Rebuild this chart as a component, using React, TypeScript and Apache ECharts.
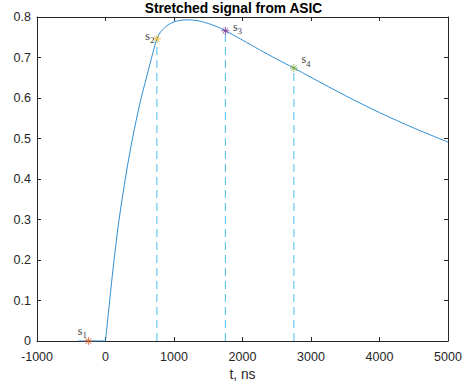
import React, { useEffect, useRef } from "react";
import * as echarts from "echarts";

// Stretched pulse sampled in time (ns) and amplitude
const baselineT = [-400, 0];
const baselineV = [0, 0];
const pulseT = [
  0, 50, 100, 150, 200, 300, 400, 500, 600, 700, 750, 800, 900, 1000, 1100,
  1200, 1300, 1400, 1600, 1750, 2000, 2250, 2500, 2750, 3000, 3500, 4000, 4500,
  5000,
];
const pulseV = [
  0, 0.082, 0.162, 0.236, 0.302, 0.412, 0.505, 0.585, 0.652, 0.717, 0.746,
  0.762, 0.779, 0.788, 0.792, 0.793, 0.792, 0.789, 0.778, 0.766, 0.743, 0.719,
  0.696, 0.674, 0.651, 0.606, 0.564, 0.526, 0.491,
];

// Sample points s1..s4
const sampleNames = ["1", "2", "3", "4"];
const sampleT = [-250, 750, 1750, 2750];
const sampleV = [0, 0.746, 0.766, 0.674];
const sampleColors = ["#D95319", "#EDB120", "#7E2F8E", "#77AC30"];

// Axis ranges and tick spacing
const xMin = -1000;
const xMax = 5000;
const xStep = 1000;
const yMin = 0;
const yMax = 0.8;
const yStep = 0.1;

const AXIS_COLOR = "#262626";
const LINE_COLOR = "#2F8ED4";
const GUIDE_COLOR = "#4DBEEE";
const SANS = "'Liberation Sans', Arial, Helvetica, sans-serif";
const SERIF = "'Liberation Serif', 'Times New Roman', serif";

const asterisk =
  "path://M0,5L10,5M5,0L5,10M1.5,1.5L8.5,8.5M1.5,8.5L8.5,1.5";

const labelPlacement = [
  { position: "top", distance: 0, offset: [-6, 0] },
  { position: "left", distance: 0, offset: [2, -3] },
  { position: "right", distance: 0, offset: [3, -4] },
  { position: "right", distance: 0, offset: [3, -9] },
];

export default function App() {
  const ref = useRef<HTMLDivElement>(null);

  useEffect(() => {
    if (!ref.current) return;
    const chart = echarts.init(ref.current, null, { renderer: "svg" });

    const toPairs = (xs: number[], ys: number[]) =>
      xs.map((x, i) => [x, ys[i]]);

    const guides = sampleT.slice(1).map((t, k) => ({
      type: "line",
      data: [
        [t, 0],
        [t, sampleV[k + 1]],
      ],
      color: GUIDE_COLOR,
      showSymbol: false,
      silent: true,
      itemStyle: { color: GUIDE_COLOR },
      lineStyle: { color: GUIDE_COLOR, width: 1, type: [8, 5] },
      z: 2,
    }));

    const rich = {
      s: {
        fontFamily: SERIF,
        fontSize: 12,
        lineHeight: 12,
        verticalAlign: "top",
        color: "#000",
      },
      n: {
        fontFamily: SERIF,
        fontSize: 9,
        lineHeight: 10,
        padding: [6, 0, 0, 0],
        verticalAlign: "top",
        color: "#000",
      },
    };

    const markers = {
      type: "scatter",
      symbol: asterisk,
      symbolSize: 8,
      z: 5,
      data: sampleT.map((t, i) => ({
        value: [t, sampleV[i]],
        itemStyle: {
          color: "rgba(0,0,0,0)",
          borderColor: sampleColors[i],
          borderWidth: 1,
        },
        label: {
          show: true,
          ...labelPlacement[i],
          formatter: `{s|s}{n|${sampleNames[i]}}`,
          rich,
        },
      })),
    };

    const tick = {
      show: true,
      inside: true,
      length: 4,
      lineStyle: { color: AXIS_COLOR },
    };
    const line = {
      show: true,
      onZero: false,
      lineStyle: { color: AXIS_COLOR, width: 1 },
    };
    const baseX = {
      type: "value",
      min: xMin,
      max: xMax,
      interval: xStep,
      splitLine: { show: false },
      axisLine: line,
      axisTick: tick,
    };
    const baseY = {
      type: "value",
      min: yMin,
      max: yMax,
      interval: yStep,
      splitLine: { show: false },
      axisLine: line,
      axisTick: tick,
    };

    chart.setOption({
      animation: false,
      backgroundColor: "#ffffff",
      title: {
        text: "Stretched signal from ASIC",
        left: "center",
        top: 1,
        padding: 0,
        textStyle: {
          fontFamily: SANS,
          fontSize: 13.75,
          fontWeight: "bold",
          color: "#000",
        },
      },
      grid: { left: 37, right: 19, top: 17, bottom: 47 },
      xAxis: [
        {
          ...baseX,
          position: "bottom",
          name: "t, ns",
          nameLocation: "middle",
          nameGap: 26,
          nameTextStyle: {
            fontFamily: SANS,
            fontSize: 13.75,
            color: AXIS_COLOR,
          },
          axisLabel: {
            margin: 9,
            fontFamily: SANS,
            fontSize: 12.5,
            color: AXIS_COLOR,
            showMinLabel: true,
            showMaxLabel: true,
            formatter: (v: number) => String(v),
          },
        },
        { ...baseX, position: "top", axisLabel: { show: false } },
      ],
      yAxis: [
        {
          ...baseY,
          position: "left",
          axisLabel: {
            margin: 6,
            fontFamily: SANS,
            fontSize: 12.5,
            color: AXIS_COLOR,
            formatter: (v: number) => String(parseFloat(v.toFixed(1))),
          },
        },
        { ...baseY, position: "right", axisLabel: { show: false } },
      ],
      series: [
        {
          type: "line",
          data: toPairs(baselineT, baselineV),
          color: LINE_COLOR,
          showSymbol: false,
          silent: true,
          lineStyle: { color: LINE_COLOR, width: 1 },
          z: 3,
        },
        {
          type: "line",
          data: toPairs(pulseT, pulseV),
          color: LINE_COLOR,
          smooth: 0.3,
          showSymbol: false,
          silent: true,
          lineStyle: { color: LINE_COLOR, width: 1 },
          z: 3,
        },
        ...guides,
        markers,
      ],
    });

    return () => chart.dispose();
  }, []);

  return (
    <div
      ref={ref}
      style={{ position: "fixed", left: 0, top: 0, width: 467, height: 388 }}
    />
  );
}
